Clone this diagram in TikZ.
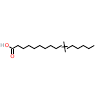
\documentclass[tikz,border=0pt]{standalone}
\usetikzlibrary{calc}
\begin{document}
\begin{tikzpicture}[x=1pt,y=-1pt,
  bond/.style={line width=0.8pt,black},
  lbl/.style={inner sep=0pt,font=\fontsize{5.5}{6}\selectfont\sffamily}]
\definecolor{ored}{RGB}{255,13,13}
\definecolor{hgray}{RGB}{110,135,145}
\useasboundingbox (0,0) rectangle (100,100);
% atoms (C1 down, even carbons up)
\foreach \i in {1,...,16}{
  \pgfmathsetmacro\xx{12.5+(\i-1)*5.45}
  \pgfmathsetmacro\yy{mod(\i,2)==1 ? 48.6 : 45.5}
  \coordinate (c\i) at (\xx,\yy);
}
\node[lbl,text=ored] (o1) at (7.05,45.45) {O};
\node[lbl,text=hgray,anchor=east] (h1) at (o1.west) {H};
\node[lbl,text=ored] (o2) at (12.5,56.2) {O};
% bonds
\draw[bond] (o1) -- (c1);
\draw[bond] ([xshift=-0.8pt]c1) -- ([xshift=-0.8pt]o2.north);
\draw[bond] ([xshift=0.8pt]c1) -- ([xshift=0.8pt]o2.north);
\draw[bond] (c1) -- (c2) -- (c3) -- (c4) -- (c5) -- (c6) -- (c7) -- (c8) -- (c9) -- (c10);
\draw[bond] ($(c10)+(0,1.6)$) -- ($(c11)+(0.6,-2.2)$);
\draw[bond] ($(c10)+(2.2,-4)$) -- ($(c11)+(-1.6,3.6)$);
\draw[bond] (c11) -- (c12) -- (c13) -- (c14) -- (c15) -- (c16);
\end{tikzpicture}
\end{document}
